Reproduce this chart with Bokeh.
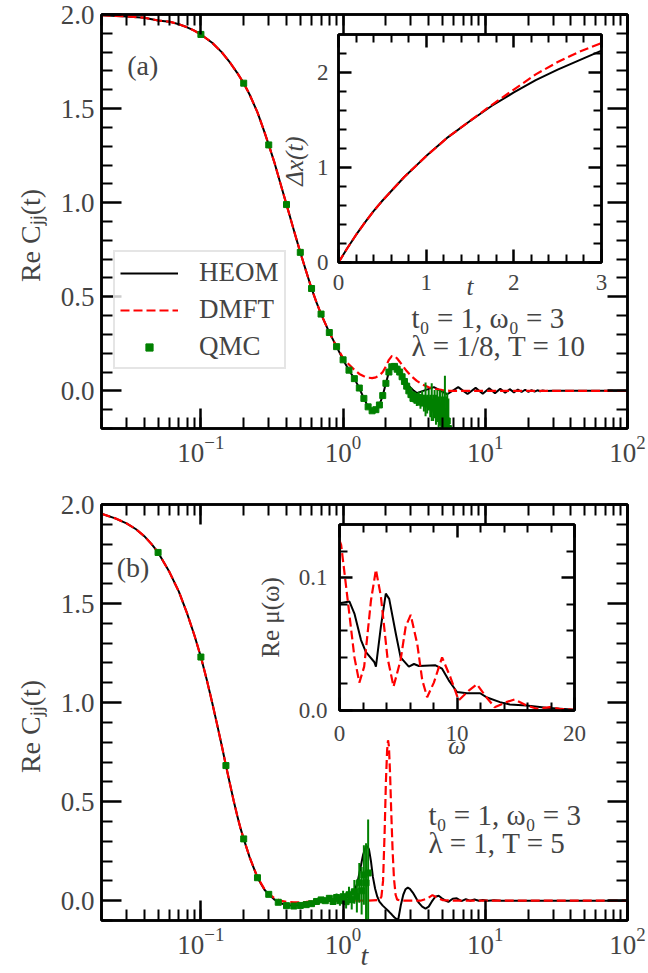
import numpy as np
from bokeh.plotting import figure
from bokeh.models import (Range1d, LogAxis, LinearAxis, LogTicker, FixedTicker,
                          PrintfTickFormatter, Legend, LegendItem, Label, GridBox,
                          ColumnDataSource)
from bokeh.embed import file_html
from bokeh.resources import INLINE

FONT = "Liberation Serif"
BLACK, RED, GREEN = "#000000", "#ff0000", "#008000"

# ---------------- panel (a) data ----------------
a_heom_t = [0.02, 0.03, 0.04, 0.05, 0.06, 0.07, 0.08, 0.09, 0.1, 0.12, 0.14, 0.16, 0.18, 0.2,
            0.22, 0.25, 0.28, 0.3, 0.33, 0.36, 0.4, 0.45, 0.5, 0.55, 0.6, 0.65, 0.7, 0.8, 0.9,
            1.0, 1.1, 1.2, 1.3, 1.4, 1.5, 1.6, 1.7, 1.8, 1.9, 2.0, 2.1, 2.2, 2.3, 2.4, 2.5, 2.6,
            2.7, 2.8, 2.9, 3.0, 3.15, 3.3, 4.35, 5.4, 6.45, 7.5, 8.55, 9.6, 10.65, 11.7, 12.75,
            13.8, 14.85, 15.9, 16.95, 18.0, 19.05, 20.1, 21.15, 22.2, 23.25, 24.3, 25.35, 26.4,
            30.0, 40.0, 60.0, 100.0]
a_heom_v = [1.996, 1.99, 1.983, 1.968, 1.962, 1.948, 1.932, 1.914, 1.894, 1.85, 1.80, 1.745, 1.69,
            1.635, 1.575, 1.48, 1.375, 1.307, 1.21, 1.11, 0.99, 0.855, 0.736, 0.635, 0.544, 0.47,
            0.408, 0.31, 0.235, 0.165, 0.11, 0.065, 0.015, -0.04, -0.085, -0.106, -0.1, -0.075,
            -0.025, 0.04, 0.1, 0.133, 0.142, 0.133, 0.113, 0.089, 0.065, 0.045, 0.028, 0.015, 0.0,
            -0.012, 0.02, -0.018, 0.02, -0.017, 0.016, -0.015, 0.014, -0.012, 0.011, -0.01, 0.009,
            -0.008, 0.007, -0.006, 0.006, -0.005, 0.004, -0.004, 0.003, -0.002, 0.002, -0.001,
            0.0, 0.0, 0.0, 0.0]
a_dmft_t = [0.02, 0.03, 0.04, 0.05, 0.06, 0.07, 0.08, 0.09, 0.1, 0.12, 0.14, 0.16, 0.18, 0.2,
            0.22, 0.25, 0.28, 0.3, 0.33, 0.36, 0.4, 0.45, 0.5, 0.55, 0.6, 0.65, 0.7, 0.8, 0.9,
            1.0, 1.1, 1.2, 1.3, 1.4, 1.5, 1.6, 1.7, 1.8, 1.9, 2.0, 2.1, 2.2, 2.3, 2.4, 2.5, 2.6,
            2.8, 3.0, 3.3, 3.6, 4.0, 4.5, 5.0, 5.6, 10.0, 100.0]
a_dmft_v = [1.996, 1.99, 1.983, 1.968, 1.962, 1.948, 1.932, 1.914, 1.894, 1.85, 1.80, 1.745, 1.69,
            1.635, 1.575, 1.48, 1.375, 1.307, 1.21, 1.11, 0.99, 0.855, 0.736, 0.635, 0.544, 0.47,
            0.408, 0.31, 0.235, 0.175, 0.14, 0.112, 0.09, 0.078, 0.07, 0.068, 0.072, 0.082, 0.1,
            0.13, 0.165, 0.185, 0.186, 0.172, 0.155, 0.137, 0.105, 0.08, 0.053, 0.035, 0.019,
            0.01, 0.004, 0.0, 0.0, 0.0]
a_qmc_t = [0.1, 0.2, 0.3, 0.4, 0.5, 0.6, 0.7, 0.8, 0.9, 1.0, 1.1, 1.2, 1.3, 1.4, 1.5, 1.6, 1.7,
           1.8, 1.9, 2.0, 2.1, 2.2, 2.3, 2.4, 2.5, 2.6, 2.7, 2.8, 2.9, 3.0, 3.1, 3.2, 3.3, 3.4,
           3.5, 3.6, 3.7, 3.8, 3.9, 4.0, 4.1, 4.2, 4.3, 4.4, 4.5, 4.6, 4.7, 4.8, 4.9, 5.0, 5.1,
           5.2, 5.3, 5.4, 5.5]
a_qmc_v = [1.894, 1.635, 1.307, 0.99, 0.736, 0.544, 0.408, 0.31, 0.235, 0.165, 0.11, 0.065,
           0.015, -0.04, -0.085, -0.106, -0.1, -0.075, -0.025, 0.04, 0.1, 0.128, 0.13, 0.115,
           0.1, 0.075, 0.05, 0.025, 0.0, -0.02, -0.04, -0.03, -0.05, -0.035, -0.06, -0.04,
           -0.065, -0.045, -0.07, -0.05, -0.08, -0.06, -0.09, -0.07, -0.1, -0.08, -0.12, -0.09,
           -0.13, -0.11, -0.15, -0.12, -0.17, -0.16, -0.2]
a_qmc_e = [0.004] * 20 + [0.005, 0.006, 0.007, 0.008, 0.009, 0.01, 0.012, 0.014, 0.016, 0.018,
                          0.02, 0.025, 0.03, 0.03, 0.035, 0.04, 0.045, 0.09, 0.05, 0.055, 0.06,
                          0.1, 0.07, 0.075, 0.08, 0.085, 0.09, 0.095, 0.1, 0.11, 0.12, 0.2, 0.14,
                          0.15, 0.16]

# inset (a): Delta x(t)
ia_t = [0.0, 0.1, 0.2, 0.3, 0.4, 0.5, 0.75, 1.0, 1.25, 1.5, 1.75, 2.0, 2.25, 2.5, 2.75, 3.0]
ia_heom = [0.0, 0.15, 0.29, 0.42, 0.54, 0.65, 0.9, 1.12, 1.32, 1.49, 1.65, 1.79, 1.92, 2.03,
           2.13, 2.23]
ia_dmft = [0.0, 0.15, 0.29, 0.42, 0.54, 0.65, 0.9, 1.12, 1.32, 1.49, 1.66, 1.82, 1.98, 2.11,
           2.22, 2.31]

# ---------------- panel (b) data ----------------
b_heom_t = [0.02, 0.025, 0.03, 0.035, 0.04, 0.045, 0.05, 0.06, 0.07, 0.08, 0.09, 0.1, 0.11, 0.12,
            0.13, 0.14, 0.15, 0.16, 0.17, 0.18, 0.19, 0.2, 0.22, 0.25, 0.28, 0.3, 0.33, 0.36, 0.4,
            0.45, 0.5, 0.55, 0.6, 0.7, 0.8, 0.9, 1.0, 1.1, 1.2, 1.26, 1.32, 1.38, 1.44, 1.48,
            1.52, 1.57, 1.62, 1.68, 1.74, 1.8, 1.9, 2.0, 2.1, 2.2, 2.3, 2.4, 2.45, 2.55, 2.65,
            2.75, 2.85, 2.95, 3.1, 3.25, 3.4, 3.6, 3.8, 4.0, 4.2, 4.45, 4.7, 4.95, 5.25, 5.5, 5.9,
            6.3, 6.8, 7.3, 7.8, 8.4, 9.0, 9.6, 10.5, 11.5, 13.0, 100.0]
b_heom_v = [1.953, 1.93, 1.905, 1.875, 1.84, 1.80, 1.758, 1.66, 1.56, 1.45, 1.34, 1.23, 1.115,
            1.0, 0.89, 0.785, 0.682, 0.59, 0.505, 0.43, 0.365, 0.312, 0.22, 0.116, 0.055, 0.032,
            0.005, -0.012, -0.022, -0.025, -0.022, -0.018, -0.013, -0.006, -0.002, 0.002, 0.008,
            0.02, 0.05, 0.09, 0.16, 0.23, 0.27, 0.275, 0.26, 0.2, 0.12, 0.06, 0.02, -0.005,
            -0.025, -0.04, -0.055, -0.07, -0.085, -0.095, -0.09, -0.02, 0.03, 0.058, 0.066, 0.06,
            0.04, 0.015, -0.01, -0.03, -0.04, -0.03, -0.005, 0.02, 0.025, 0.012, 0.0, -0.006,
            0.01, 0.012, -0.002, 0.008, 0.0, 0.006, 0.0, 0.004, 0.0, 0.002, 0.0, 0.0]
b_dmft_t = [0.02, 0.025, 0.03, 0.035, 0.04, 0.045, 0.05, 0.06, 0.07, 0.08, 0.09, 0.1, 0.11, 0.12,
            0.13, 0.14, 0.15, 0.16, 0.17, 0.18, 0.19, 0.2, 0.22, 0.25, 0.28, 0.3, 0.33, 0.36, 0.4,
            0.45, 0.5, 0.55, 0.6, 0.7, 0.8, 1.0, 1.5, 1.8, 1.86, 1.91, 1.96, 2.0, 2.04, 2.07, 2.1,
            2.14, 2.18, 2.23, 2.28, 2.34, 2.4, 2.6, 3.5, 3.9, 4.25, 4.6, 5.0, 6.0, 100.0]
b_dmft_v = [1.953, 1.93, 1.905, 1.875, 1.84, 1.80, 1.758, 1.66, 1.56, 1.45, 1.34, 1.23, 1.115,
            1.0, 0.89, 0.785, 0.682, 0.59, 0.505, 0.43, 0.365, 0.312, 0.22, 0.118, 0.058, 0.035,
            0.012, 0.0, -0.006, -0.008, -0.008, -0.006, -0.004, -0.001, 0.0, 0.0, 0.0, 0.003,
            0.02, 0.1, 0.35, 0.6, 0.76, 0.81, 0.78, 0.64, 0.45, 0.25, 0.11, 0.03, 0.005, 0.0, 0.0,
            0.01, 0.028, 0.015, 0.003, 0.0, 0.0]
b_qmc_t = [0.05, 0.1, 0.15, 0.2, 0.25, 0.3, 0.35, 0.4, 0.45, 0.5, 0.55, 0.6, 0.65, 0.7, 0.75,
           0.8, 0.85, 0.9, 0.95, 1.0, 1.05, 1.1, 1.15, 1.2, 1.25, 1.3, 1.35, 1.4, 1.45, 1.5]
b_qmc_v = [1.758, 1.23, 0.682, 0.312, 0.116, 0.032, -0.008, -0.025, -0.027, -0.024, -0.02,
           -0.015, -0.004, 0.004, 0.0, 0.012, -0.004, 0.016, 0.0, 0.02, -0.005, 0.03, 0.005,
           0.045, 0.02, 0.09, 0.05, 0.13, 0.09, 0.14]
b_qmc_e = [0.004] * 12 + [0.008, 0.01, 0.012, 0.015, 0.018, 0.02, 0.025, 0.03, 0.035, 0.04,
                          0.05, 0.06, 0.08, 0.1, 0.12, 0.15, 0.2, 0.27]

# inset (b): Re mu(omega)
ib_heom_w = [0.0, 0.85, 1.27, 1.83, 2.25, 2.96, 3.1, 3.52, 3.94, 4.23, 4.79, 5.2, 5.9, 6.34,
             6.76, 8.17, 8.73, 9.3, 10.0, 10.85, 11.97, 12.5, 13.66, 14.5, 15.9, 17.6, 20.0]
ib_heom_v = [0.0807, 0.082, 0.073, 0.053, 0.044, 0.0365, 0.033, 0.063, 0.088, 0.084, 0.058,
             0.040, 0.033, 0.035, 0.0335, 0.034, 0.0315, 0.0227, 0.0139, 0.013, 0.013, 0.010,
             0.0063, 0.0045, 0.0038, 0.002, 0.0005]
ib_dmft_w = [0.0, 0.14, 0.7, 1.27, 1.69, 2.1, 2.68, 3.1, 3.52, 4.08, 4.6, 5.2, 5.63, 6.06, 6.62,
             7.04, 7.46, 8.03, 8.73, 9.44, 10.14, 11.0, 11.7, 12.5, 13.2, 14.2, 14.9, 15.9, 16.8,
             17.9, 18.7, 20.0]
ib_dmft_v = [0.128, 0.1247, 0.083, 0.040, 0.021, 0.033, 0.083, 0.106, 0.086, 0.040, 0.018,
             0.038, 0.063, 0.072, 0.050, 0.023, 0.010, 0.021, 0.040, 0.025, 0.0076, 0.015,
             0.0197, 0.010, 0.0025, 0.0063, 0.0083, 0.0038, 0.0013, 0.0025, 0.0013, 0.0005]

# ---------------- axes ticks ----------------
a_y_major = [0.0, 0.5, 1.0, 1.5, 2.0]
a_y_minor = [-0.2, -0.1, 0.1, 0.2, 0.3, 0.4, 0.6, 0.7, 0.8, 0.9, 1.1, 1.2, 1.3, 1.4, 1.6, 1.7,
             1.8, 1.9]
b_y_minor = [-0.1, 0.1, 0.2, 0.3, 0.4, 0.6, 0.7, 0.8, 0.9, 1.1, 1.2, 1.3, 1.4, 1.6, 1.7, 1.8, 1.9]
ia_x_major = [0, 1, 2, 3]
ia_x_minor = [0.2, 0.4, 0.6, 0.8, 1.2, 1.4, 1.6, 1.8, 2.2, 2.4, 2.6, 2.8]
ia_y_major = [0, 1, 2]
ia_y_minor = [0.2, 0.4, 0.6, 0.8, 1.2, 1.4, 1.6, 1.8, 2.2]
ib_x_major = [0, 10, 20]
ib_x_minor = [2, 4, 6, 8, 12, 14, 16, 18]
ib_y_major = [0.0, 0.1]
ib_y_minor = [0.02, 0.04, 0.06, 0.08, 0.12]

TICK_FS = "27px"
LABEL_FS = "28px"
LEG_FS = "27px"
NOTE_FS = "29px"
INS_TICK_FS = "23px"
INS_LABEL_FS = "25px"
PAD = "\u00a0" * 4


def style_axis(ax, fs, tin, tmin, labels=True, label_fs=LABEL_FS):
    ax.major_tick_in = tin
    ax.major_tick_out = 0
    ax.minor_tick_in = tmin
    ax.minor_tick_out = 0
    ax.major_tick_line_width = 2.5
    ax.minor_tick_line_width = 2
    ax.axis_line_width = 2.5
    ax.major_label_text_font = FONT
    if labels:
        ax.major_label_text_font_size = fs
        ax.major_label_standoff = 7
    else:
        ax.major_label_text_font_size = "6px"
        ax.major_label_text_color = None
        ax.major_label_standoff = 0
    ax.axis_label_text_font = FONT
    ax.axis_label_text_font_size = label_fs


def make_main(fh, y_lo, y_hi, y_minor, top, bottom, margin):
    p = figure(frame_width=526, frame_height=fh, x_axis_type="log",
               x_range=Range1d(0.02, 100), y_range=Range1d(y_lo, y_hi),
               output_backend="svg", toolbar_location=None,
               min_border_left=101, min_border_right=21,
               min_border_top=top, min_border_bottom=bottom)
    p.frame_align = False
    p.margin = margin
    p.border_fill_alpha = 0
    p.grid.visible = False
    p.outline_line_color = "black"
    p.outline_line_width = 2.5
    p.add_layout(LogAxis(), "above")
    p.add_layout(LinearAxis(), "right")
    for ax in p.below + p.above:
        ax.ticker = LogTicker(num_minor_ticks=10)
    for ax in p.left + p.right:
        ax.ticker = FixedTicker(ticks=a_y_major, minor_ticks=y_minor)
        ax.formatter = PrintfTickFormatter(format="%.1f")
    for ax in p.below + p.left:
        style_axis(ax, TICK_FS, 20, 11)
    for ax in p.above + p.right:
        style_axis(ax, TICK_FS, 20, 11, labels=False)
    p.left[0].axis_label = "Re C\u2c7c\u2c7c(t)" + PAD
    p.left[0].axis_label_text_font_style = "normal"
    p.left[0].axis_label_standoff = 12
    return p


def make_inset(fw, fh, xr, yr, xmaj, xmin, ymaj, ymin, yfmt, margin, bl, xlabel, ylabel):
    p = figure(frame_width=fw, frame_height=fh, x_range=Range1d(*xr), y_range=Range1d(*yr),
               output_backend="svg", toolbar_location=None,
               min_border_left=bl, min_border_right=20, min_border_top=12,
               min_border_bottom=75)
    p.frame_align = False
    p.margin = margin
    p.grid.visible = False
    p.border_fill_alpha = 0
    p.background_fill_color = "white"
    p.outline_line_color = "black"
    p.outline_line_width = 2.5
    p.add_layout(LinearAxis(), "above")
    p.add_layout(LinearAxis(), "right")
    for ax in p.below + p.above:
        ax.ticker = FixedTicker(ticks=xmaj, minor_ticks=xmin)
    for ax in p.left + p.right:
        ax.ticker = FixedTicker(ticks=ymaj, minor_ticks=ymin)
        if yfmt:
            ax.formatter = PrintfTickFormatter(format=yfmt)
    for ax in p.below + p.left:
        style_axis(ax, INS_TICK_FS, 13, 8, label_fs=INS_LABEL_FS)
    for ax in p.above + p.right:
        style_axis(ax, INS_TICK_FS, 13, 8, labels=False)
    p.below[0].axis_label = xlabel
    p.left[0].axis_label = ylabel
    return p


def qmc_source(t, v, e):
    lo = [a - b for a, b in zip(v, e)]
    hi = [a + b for a, b in zip(v, e)]
    return ColumnDataSource(dict(t=t, v=v, lo=lo, hi=hi))


# ---------------- panel (a) ----------------
pa = make_main(414, -0.2, 2.0, a_y_minor, 14, 52, (0, 0, 0, 0))
ra_heom = pa.line(a_heom_t, a_heom_v, line_color=BLACK, line_width=2)
ra_dmft = pa.line(a_dmft_t, a_dmft_v, line_color=RED, line_width=2.2, line_dash="9 4")
src_a = qmc_source(a_qmc_t, a_qmc_v, a_qmc_e)
ra_err = pa.segment(x0="t", y0="lo", x1="t", y1="hi", source=src_a, line_color=GREEN, line_width=2)
ra_sq = pa.scatter(x="t", y="v", source=src_a, marker="square", size=6, color=GREEN)

legend = Legend(items=[LegendItem(label="HEOM", renderers=[ra_heom]),
                       LegendItem(label="DMFT", renderers=[ra_dmft]),
                       LegendItem(label="QMC", renderers=[ra_sq])],
                location=(12, 59), glyph_width=58, glyph_height=18, label_standoff=21,
                spacing=6, padding=5, margin=0,
                label_text_font=FONT, label_text_font_size=LEG_FS,
                border_line_color="#cccccc", border_line_width=2,
                background_fill_alpha=0.8)
pa.add_layout(legend, "center")
pa.add_layout(Label(x=0.039, y=1.73, text="(a)", text_font=FONT, text_font_size=LABEL_FS,
                    text_align="center", text_baseline="middle"))
pa.add_layout(Label(x=3.03, y=0.388, text="t\u2080 = 1, \u03c9\u2080 = 3", text_font=FONT,
                    text_font_size=NOTE_FS, text_baseline="middle"))
pa.add_layout(Label(x=3.03, y=0.239, text="\u03bb = 1/8, T = 10", text_font=FONT,
                    text_font_size=NOTE_FS, text_baseline="middle"))

# ---------------- panel (b) ----------------
pb = make_main(416, -0.1, 2.0, b_y_minor, 24, 53, (480, 0, 0, 0))
pb.below[0].axis_label = "t"
pb.below[0].axis_label_standoff = -17
pb.line(b_heom_t, b_heom_v, line_color=BLACK, line_width=2)
pb.line(b_dmft_t, b_dmft_v, line_color=RED, line_width=2.2, line_dash="9 4")
src_b = qmc_source(b_qmc_t, b_qmc_v, b_qmc_e)
pb.segment(x0="t", y0="lo", x1="t", y1="hi", source=src_b, line_color=GREEN, line_width=2)
pb.scatter(x="t", y="v", source=src_b, marker="square", size=6, color=GREEN)
pb.add_layout(Label(x=0.0333, y=1.68, text="(b)", text_font=FONT, text_font_size=LABEL_FS,
                    text_align="center", text_baseline="middle"))
pb.add_layout(Label(x=3.98, y=0.435, text="t\u2080 = 1, \u03c9\u2080 = 3", text_font=FONT,
                    text_font_size=NOTE_FS, text_baseline="middle"))
pb.add_layout(Label(x=3.98, y=0.289, text="\u03bb = 1, T = 5", text_font=FONT,
                    text_font_size=NOTE_FS, text_baseline="middle"))

# ---------------- insets ----------------
ia = make_inset(263, 228, (0, 3), (0, 2.4), ia_x_major, ia_x_minor, ia_y_major, ia_y_minor,
                None, (22, 0, 0, 228), 110, "t", "\u0394x(t)" + PAD)
ia.left[0].major_label_standoff = 10
ia.below[0].major_label_standoff = 12
ia.below[0].axis_label_standoff = -20
ia.left[0].axis_label_standoff = 6
ia.line(ia_t, ia_heom, line_color=BLACK, line_width=2)
ia.line(ia_t, ia_dmft, line_color=RED, line_width=2.2, line_dash="9 4")

ib = make_inset(235, 186, (0, 20), (0, 0.14), ib_x_major, ib_x_minor, ib_y_major, ib_y_minor,
                "%.1f", (512, 0, 0, 219), 120, "\u03c9", "Re \u03bc(\u03c9)")
ib.left[0].axis_label_text_font_style = "normal"
ib.left[0].major_label_standoff = 12
ib.below[0].major_label_standoff = 15
ib.left[0].axis_label_standoff = 12
ib.below[0].axis_label_standoff = -12
ib.line(ib_heom_w, ib_heom_v, line_color=BLACK, line_width=2)
ib.line(ib_dmft_w, ib_dmft_v, line_color=RED, line_width=2.2, line_dash="9 4")

grid = GridBox(children=[(pa, 0, 0), (pb, 0, 0), (ia, 0, 0), (ib, 0, 0)])

open("out.html", "w").write(file_html(grid, INLINE))
